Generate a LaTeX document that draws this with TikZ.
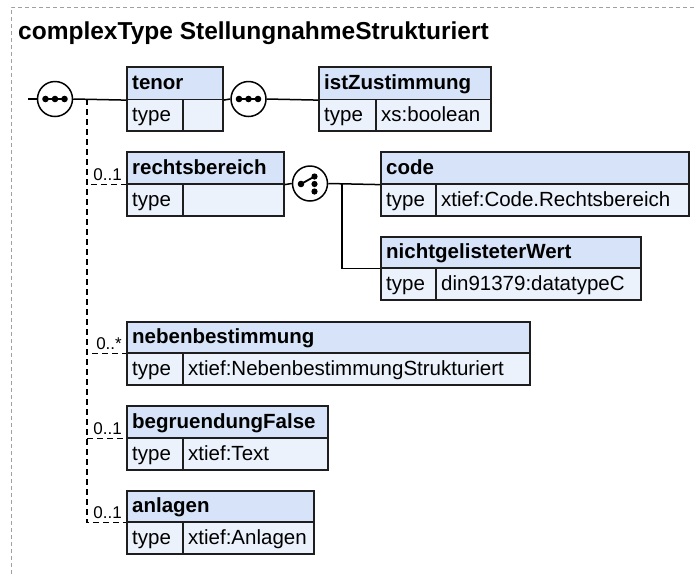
\documentclass[tikz,border=0pt]{standalone}
\usepackage{fontspec}
\setmainfont{Liberation Sans}
\definecolor{hdrfill}{RGB}{214,227,248}
\definecolor{rowfill}{RGB}{235,242,252}
\definecolor{boxline}{RGB}{30,30,30}
\definecolor{framecol}{RGB}{160,160,160}
\tikzset{
  hdr/.style={draw=boxline, fill=hdrfill, line width=1.6pt, inner sep=0pt, anchor=north west},
  rowcell/.style={draw=boxline, fill=rowfill, line width=1.6pt, inner sep=0pt, anchor=north west},
  btxt/.style={font=\fontsize{20.5}{24}\selectfont\bfseries, inner sep=0pt, anchor=base west},
  rtxt/.style={font=\fontsize{20.5}{24}\selectfont, inner sep=0pt, anchor=base west},
  conn/.style={line width=1.5pt, draw=black},
  opt/.style={conn, dash pattern=on 6pt off 4pt},
  card/.style={font=\fontsize{17}{20}\selectfont, inner sep=0pt, anchor=base east},
  compositor/.style={circle, draw=black, line width=1.5pt, fill=white, minimum size=35pt, inner sep=0pt},
  framestyle/.style={draw=framecol, line width=1pt, dash pattern=on 4pt off 3pt},
  titlestyle/.style={font=\fontsize{24.5}{28}\selectfont\bfseries, inner sep=0pt, anchor=base west},
  dotstyle/.style={fill=black},
}
% #1 name, #2 x1, #3 y1, #4 header bottom, #5 y2, #6 divider x, #7 x2, #8 title, #9 value
\newcommand\xsdbox[9]{%
  \node[hdr, minimum width={(#7)-(#2)}, minimum height={(#4)-(#3)}] (#1) at (#2,#3) {};
  \node[rowcell, minimum width={(#6)-(#2)}, minimum height={(#5)-(#4)}] (#1-tc) at (#2,#4) {};
  \node[rowcell, minimum width={(#7)-(#6)}, minimum height={(#5)-(#4)}] (#1-vc) at (#6,#4) {};
  \node[btxt] (#1-name) at ({#2+6},{(#3+#4)/2+7.3}) {#8};
  \node[rtxt] (#1-type) at ({#2+6},{(#4+#5)/2+7.3}) {type};
  \node[rtxt] (#1-val) at ({#6+6},{(#4+#5)/2+7.3}) {#9};
}
\begin{document}
\begin{tikzpicture}[x=1pt, y=-1pt]
\useasboundingbox (0,0) rectangle (695,574);
% frame
\draw[framestyle] (11,574) -- (11,7) -- (695,7);
\node[titlestyle] (title) at (18,39) {complexType StellungnahmeStrukturiert};

% boxes
\xsdbox{tenor}{126}{66}{98.5}{130}{182}{222}{tenor}{}
\xsdbox{ist}{318}{66}{98.5}{130}{375}{490}{istZustimmung}{xs:boolean}
\xsdbox{rechts}{126}{151}{183}{215}{182}{283}{rechtsbereich}{}
\xsdbox{code}{380}{151}{183}{215}{435}{688}{code}{xtief:Code.Rechtsbereich}
\xsdbox{nicht}{380}{236}{267}{299}{435}{640}{nichtgelisteterWert}{din91379:datatypeC}
\xsdbox{neben}{126}{321}{352}{384}{182}{529}{nebenbestimmung}{xtief:NebenbestimmungStrukturiert}
\xsdbox{begr}{126}{405}{437}{469}{182}{327}{begruendungFalse}{xtief:Text}
\xsdbox{anl}{126}{490}{521}{553}{182}{313}{anlagen}{xtief:Anlagen}

% compositors
\node[compositor] (seq1) at (55,99) {};
\node[compositor] (seq2) at (248.5,99) {};
\node[compositor] (choice) at (310,183.5) {};

\coordinate (start) at (28,99);
\coordinate (trunk) at (87,99);
\coordinate (branch) at (342,183);

% solid connectors
\draw[conn] (start) -- (seq1.west);
\draw[conn] (seq1.east) -- (tenor.south west);
\draw[conn] (tenor.south east) -- (seq2.west);
\draw[conn] (seq2.east) -- (ist.south west);
\draw[conn] (rechts.south east) -- (choice.west);
\draw[conn] (choice.east) -- (code.south west);
\draw[conn] (branch) |- (nicht.south west);

% optional (dashed) connectors
\draw[opt] (trunk) |- (anl.south west);
\draw[opt] (trunk) |- (begr.south west);
\draw[opt] (trunk) |- (neben.south west);
\draw[opt] (trunk) |- (rechts.south west);

% cardinalities
\node[card] (c-rechts) at (122,180) {0..1};
\node[card] (c-neben) at (122,349) {0..*};
\node[card] (c-begr) at (122,434) {0..1};
\node[card] (c-anl) at (122,518) {0..1};

% sequence icons
\foreach \cx in {55,248.5}{
  \draw[line width=1.6pt] (\cx-11,99) -- (\cx+11,99);
  \foreach \d in {-9.5,0,9.5} \fill[dotstyle] (\cx+\d,99) circle (3.3pt);
}
% choice icon
\draw[line width=1.8pt] (301,184) -- (314.5,176.5);
\fill[dotstyle] (301,184) circle (3.3pt);
\foreach \dy in {176.5,184,191.5} \fill[dotstyle] (314.5,\dy) circle (3.1pt);
\end{tikzpicture}
\end{document}
